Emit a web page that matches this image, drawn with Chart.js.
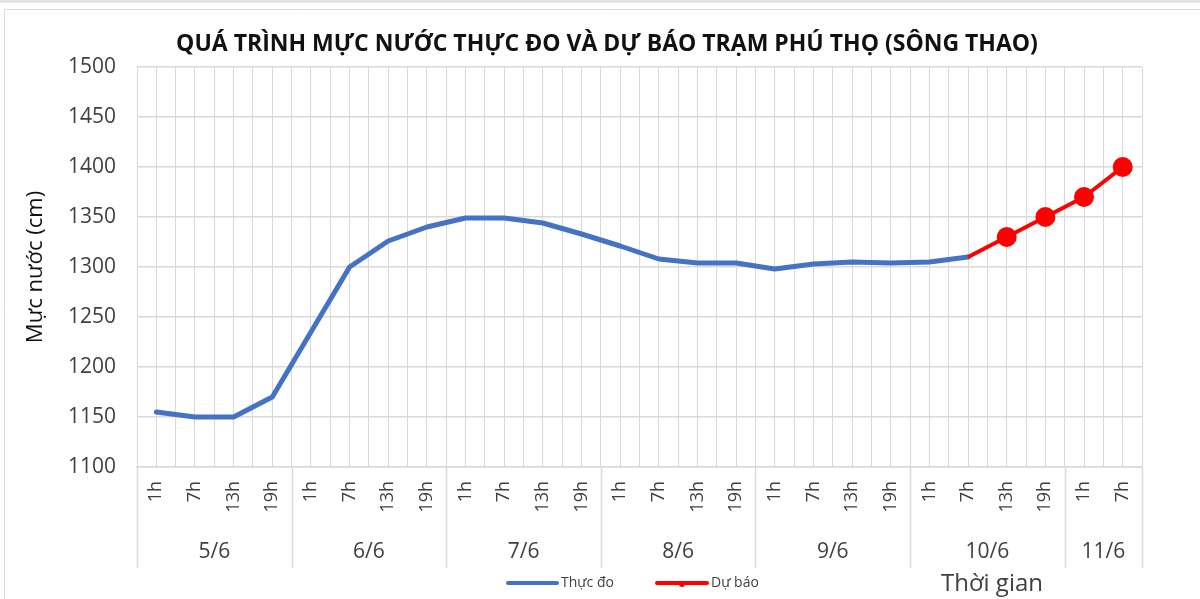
<!DOCTYPE html>
<html>
<head>
<meta charset="utf-8">
<script src="https://cdn.jsdelivr.net/npm/chart.js@4"></script>
<style>
  body { margin: 0; background: #fff; }
  #wrap { position: relative; width: 1200px; height: 599px; }
</style>
</head>
<body>
<div id="wrap"><canvas id="chart" width="1200" height="599"></canvas></div>
<script>
// data
var hours = ['1h', '7h', '13h', '19h', '1h', '7h', '13h', '19h', '1h', '7h', '13h', '19h',
    '1h', '7h', '13h', '19h', '1h', '7h', '13h', '19h', '1h', '7h', '13h', '19h', '1h', '7h'];
var days = ['5/6', '6/6', '7/6', '8/6', '9/6', '10/6', '11/6'];
var dayCounts = [4, 4, 4, 4, 4, 4, 2];
var thucDo = [1155, 1150, 1150, 1170, 1235, 1300, 1326, 1340, 1349, 1349, 1344, 1333,
    1321, 1308, 1304, 1304, 1298, 1303, 1305, 1304, 1305, 1310,
    null, null, null, null];
var duBao = [null, null, null, null, null, null, null, null, null, null, null, null,
    null, null, null, null, null, null, null, null, null,
    1310, 1330, 1350, 1370, 1400];
var yTicks = { min: 1100, max: 1500, step: 50 };

var FONT = "'Open Sans', 'Noto Sans', sans-serif";
var GRID = '#d9d9d9';

var extras = {
    id: 'extras',
    beforeDraw: function (chart) {
        var ctx = chart.ctx;
        ctx.save();
        // frame like the screenshot
        ctx.fillStyle = '#e3e3e3';
        ctx.fillRect(0, 0, 1200, 3);
        ctx.strokeStyle = GRID;
        ctx.lineWidth = 1;
        ctx.beginPath();
        ctx.moveTo(4.5, 599);
        ctx.lineTo(4.5, 9.5);
        ctx.lineTo(1200, 9.5);
        ctx.stroke();
        ctx.restore();
    },
    afterDraw: function (chart) {
        var ctx = chart.ctx;
        var x = chart.scales.x;
        var area = chart.chartArea;
        var cw = (area.right - area.left) / hours.length;
        ctx.save();

        // title
        ctx.fillStyle = '#111';
        ctx.font = 'bold 23px ' + FONT;
        ctx.textAlign = 'center';
        ctx.textBaseline = 'middle';
        ctx.fillText('QUÁ TRÌNH MỰC NƯỚC THỰC ĐO VÀ DỰ BÁO TRẠM PHÚ THỌ (SÔNG THAO)', 607, 44);

        // hour labels, rotated
        ctx.fillStyle = '#404040';
        ctx.font = '18px ' + FONT;
        hours.forEach(function (h, i) {
            ctx.save();
            ctx.translate(x.getPixelForValue(i), 481);
            ctx.rotate(-Math.PI / 2);
            ctx.textAlign = 'right';
            ctx.textBaseline = 'middle';
            ctx.fillText(h, 0, 0);
            ctx.restore();
        });

        // day groups
        ctx.strokeStyle = GRID;
        ctx.lineWidth = 1.5;
        ctx.font = '21px ' + FONT;
        ctx.textAlign = 'center';
        ctx.textBaseline = 'middle';
        var start = 0;
        for (var d = 0; d <= days.length; d++) {
            var bx = Math.round(area.left + start * cw) + 0.5;
            ctx.beginPath();
            ctx.moveTo(bx, area.bottom);
            ctx.lineTo(bx, 568);
            ctx.stroke();
            if (d < days.length) {
                var cx = area.left + (start + dayCounts[d] / 2) * cw;
                ctx.fillText(days[d], cx, 552);
                start += dayCounts[d];
            }
        }

        // legend
        ctx.lineCap = 'round';
        ctx.lineWidth = 4;
        ctx.strokeStyle = '#4472C4';
        ctx.beginPath();
        ctx.moveTo(508, 583);
        ctx.lineTo(557, 583);
        ctx.stroke();
        ctx.strokeStyle = '#FF0000';
        ctx.beginPath();
        ctx.moveTo(657, 583);
        ctx.lineTo(707, 583);
        ctx.stroke();
        ctx.fillStyle = '#FF0000';
        ctx.beginPath();
        ctx.arc(682, 584, 3, 0, Math.PI * 2);
        ctx.fill();

        ctx.fillStyle = '#404040';
        ctx.font = '14px ' + FONT;
        ctx.textAlign = 'left';
        ctx.fillText('Thực đo', 561, 583);
        ctx.fillText('Dự báo', 711, 583);

        // x axis title
        ctx.font = '24px ' + FONT;
        ctx.textAlign = 'center';
        ctx.fillText('Thời gian', 992, 584);
        ctx.restore();
    }
};

var ctx = document.getElementById('chart').getContext('2d');
var chart = new Chart(ctx, {
    type: 'line',
    data: {
        labels: hours,
        datasets: [{
            label: 'Thực đo',
            data: thucDo,
            borderColor: '#4472C4',
            borderWidth: 5,
            borderCapStyle: 'round',
            borderJoinStyle: 'round',
            pointRadius: 0,
            spanGaps: false,
            order: 2
        }, {
            label: 'Dự báo',
            data: duBao,
            borderColor: '#FF0000',
            backgroundColor: '#FF0000',
            borderWidth: 4,
            borderJoinStyle: 'round',
            pointRadius: function (c) { return c.dataIndex > 21 ? 10 : 0; },
            pointBorderWidth: 0,
            order: 1
        }]
    },
    options: {
        responsive: false,
        devicePixelRatio: 1,
        animation: false,
        layout: { padding: { top: 67, right: 58, left: 0, bottom: 0 } },
        plugins: {
            legend: { display: false },
            title: { display: false },
            tooltip: { enabled: false }
        },
        scales: {
            x: {
                type: 'category',
                offset: true,
                grid: { offset: true, color: GRID, drawTicks: false },
                border: { color: GRID, width: 1.5 },
                ticks: { display: false },
                afterFit: function (s) { s.height = 132; }
            },
            xc: {
                type: 'category',
                position: 'top',
                offset: true,
                grid: { offset: false, color: GRID, drawTicks: false },
                border: { display: false },
                ticks: { display: false },
                afterFit: function (s) { s.height = 0; }
            },
            y: {
                min: yTicks.min,
                max: yTicks.max,
                ticks: {
                    stepSize: yTicks.step,
                    color: '#404040',
                    font: { family: FONT, size: 21 },
                    padding: 21,
                    callback: function (v) { return String(v); }
                },
                grid: { color: GRID, lineWidth: 1.5, drawTicks: false },
                border: { display: false },
                title: {
                    display: true,
                    text: 'Mực nước (cm)',
                    color: '#111',
                    font: { family: FONT, size: 22 },
                    padding: { top: 23, bottom: 0 }
                },
                afterFit: function (s) { s.width = 137; }
            }
        }
    },
    plugins: [extras]
});
</script>
</body>
</html>
